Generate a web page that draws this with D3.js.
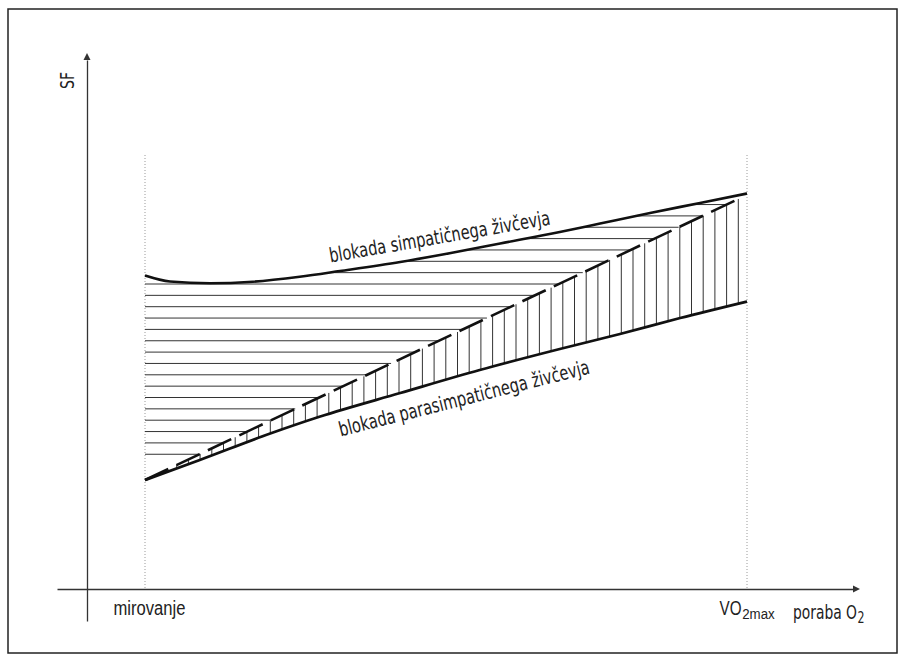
<!DOCTYPE html>
<html><head><meta charset="utf-8">
<script src="https://cdn.jsdelivr.net/npm/d3@7"></script>
<style>
html,body{margin:0;padding:0;background:#fff;}
svg{display:block;font-family:'Liberation Sans Narrow','DejaVu Sans Condensed','Roboto Condensed','Liberation Sans',sans-serif;font-stretch:condensed;}
</style></head><body>
<svg id="chart" width="905" height="662"></svg>
<script>
// ---- data (x: 0 = rest, 100 = VO2max; y: relative heart rate units) ----
const tickValues = [0, 100];
const tickLabels = ["mirovanje", "VO2max"];
const axisTitleX = "poraba O2";
const axisTitleY = "SF";
const curveLabels = ["blokada simpatičnega živčevja", "blokada parasimpatičnega živčevja"];

const sympX = [0, 4.15, 10.8, 17.9, 25.7, 32.4, 42.4, 50.8, 59.0, 68.9, 75.6, 83.9, 92.2, 100];
const sympY = [62.7, 61.5, 61.14, 61.46, 62.46, 63.6, 65.4, 67.2, 69.1, 71.4, 73.1, 75.2, 77.2, 79.1];

const paraX = [0, 9.1, 20.8, 29.1, 42.4, 55.6, 68.9, 78.9, 88.9, 100];
const paraY = [21.8, 25.8, 31.1, 34.5, 39.2, 43.8, 48, 51, 54.2, 57.5];

const normalX = [0, 98.2];
const normalY = [21.8, 77.8];

// ---- layout ----
const svg = d3.select("#chart");
const xs = d3.scaleLinear().domain([0, 100]).range([145, 747]);
const ys = d3.scaleLinear().domain([0, 100]).range([589, 89]);
const ink = "#222";
const FS = 20, FSsub = 15.5;

svg.append("rect").attr("x", 8).attr("y", 9).attr("width", 889).attr("height", 644)
  .attr("fill", "none").attr("stroke", ink).attr("stroke-width", 1.5);

// dotted guide lines
tickValues.forEach(v => {
  svg.append("line").attr("x1", xs(v)).attr("x2", xs(v)).attr("y1", 155).attr("y2", ys(0))
    .attr("stroke", "#9a9a9a").attr("stroke-width", 1).attr("stroke-dasharray", "1,2");
});

// axes
const xAxisScale = d3.scaleLinear().domain([xs.invert(57), xs.invert(853)]).range([57, 853]);
const xAxisG = svg.append("g").attr("transform", `translate(0,${ys(0)})`)
  .call(d3.axisBottom(xAxisScale).tickValues(tickValues).tickSize(0).tickSizeOuter(0).tickPadding(12)
    .tickFormat((d, i) => tickLabels[i]));
xAxisG.select(".domain").attr("stroke", "#333").attr("stroke-width", 1.3);
xAxisG.selectAll("text").attr("font-size", FS).attr("fill", ink).attr("font-family", null);
xAxisG.selectAll(".tick text").each(function(d, i) {
  const t = d3.select(this);
  if (tickLabels[i] === "VO2max") {
    t.text(null).attr("text-anchor", "start");
    t.append("tspan").attr("x", -28).attr("textLength", 22).attr("lengthAdjust", "spacingAndGlyphs").text("VO");
    t.append("tspan").attr("x", -5.3).attr("font-size", FSsub).attr("dy", 4)
      .attr("textLength", 32.5).attr("lengthAdjust", "spacingAndGlyphs").text("2max");
  } else {
    t.attr("dx", 4).attr("textLength", 72).attr("lengthAdjust", "spacingAndGlyphs");
  }
});
svg.append("path").attr("d", "M853,585.5L860,589L853,592.5Z").attr("fill", "#333");

const yAxisScale = d3.scaleLinear().domain([ys.invert(621), ys.invert(60)]).range([621, 60]);
const yAxisG = svg.append("g").attr("transform", "translate(87,0)")
  .call(d3.axisLeft(yAxisScale).tickValues([]).tickSizeOuter(0));
yAxisG.select(".domain").attr("stroke", "#333").attr("stroke-width", 1.3);
svg.append("path").attr("d", "M83.5,60L87,53L90.5,60Z").attr("fill", "#333");

// axis titles
const xt = svg.append("text").attr("y", 618.5).attr("font-size", FS).attr("fill", ink);
xt.append("tspan").attr("x", 793).attr("textLength", 64).attr("lengthAdjust", "spacingAndGlyphs").text("poraba O");
xt.append("tspan").attr("x", 857.5).attr("font-size", FSsub).attr("dy", 4)
  .attr("textLength", 7).attr("lengthAdjust", "spacingAndGlyphs").text("2");
svg.append("text").attr("transform", "translate(74,80.5) rotate(-90)").attr("text-anchor", "middle")
  .attr("font-size", FS).attr("fill", ink).attr("textLength", 17).attr("lengthAdjust", "spacingAndGlyphs")
  .text(axisTitleY);

// curves
const line = d3.line().x(d => xs(d[0])).y(d => ys(d[1])).curve(d3.curveMonotoneX);
const symp = d3.zip(sympX, sympY), para = d3.zip(paraX, paraY), norm = d3.zip(normalX, normalY);

const hatchG = svg.append("g");
const sympPath = svg.append("path").attr("d", line(symp)).attr("fill", "none").attr("stroke", "#111").attr("stroke-width", 2.6);
const paraPath = svg.append("path").attr("d", line(para)).attr("fill", "none").attr("stroke", "#111").attr("stroke-width", 2.8);
svg.append("path").attr("d", d3.line().x(d => xs(d[0])).y(d => ys(d[1]))(norm))
  .attr("fill", "none").attr("stroke", "#111").attr("stroke-width", 2.6).attr("stroke-dasharray", "25.8,9.0");

function sample(node) {
  const L = node.getTotalLength(), out = [];
  for (let i = 0; i <= 600; i++) { const p = node.getPointAtLength(L * i / 600); out.push([p.x, p.y]); }
  return out;
}
const sU = sample(sympPath.node()), sL = sample(paraPath.node());
function yAt(s, x) {
  for (let i = 1; i < s.length; i++) {
    if (s[i][0] >= x) { const a = s[i-1], b = s[i]; const t = (x - a[0]) / ((b[0] - a[0]) || 1); return a[1] + t * (b[1] - a[1]); }
  }
  return s[s.length - 1][1];
}
const nx0 = xs(normalX[0]), ny0 = ys(normalY[0]), nx1 = xs(normalX[1]), ny1 = ys(normalY[1]);
const nSlope = (ny1 - ny0) / (nx1 - nx0);
const normY = x => ny0 + nSlope * (x - nx0);
const normXat = y => nx0 + (y - ny0) / nSlope;

// horizontal hatching (above the dashed line)
const stepY = 11.35, baseY = 284;
for (let k = -7; k <= 15; k++) {
  const y = baseY + stepY * k;
  const xr = normXat(y);
  let xl = xs(0);
  for (let i = sU.length - 1; i >= 0; i--) {
    if (sU[i][0] > xr) continue;
    if (sU[i][1] >= y) { xl = sU[i][0]; break; }
  }
  xl = Math.max(xl, xs(0));
  if (xr - xl > 2) hatchG.append("line").attr("x1", xl).attr("x2", xr).attr("y1", y).attr("y2", y)
    .attr("stroke", "#333").attr("stroke-width", 1);
}
// vertical hatching (below the dashed line)
const stepX = 11.7, startX = 738.3;
for (let j = 0; j < 60; j++) {
  const x = startX - stepX * j;
  if (x <= xs(0)) break;
  const yl = yAt(sL, x), yt = normY(x);
  if (yl - yt > 2) hatchG.append("line").attr("x1", x).attr("x2", x).attr("y1", yl).attr("y2", yt)
    .attr("stroke", "#333").attr("stroke-width", 1);
}

// curve labels
svg.append("text").attr("transform", `translate(${xs(30.8)},${ys(65.3)}) rotate(-9.8)`)
  .attr("font-size", FS).attr("fill", ink).attr("textLength", 224).attr("lengthAdjust", "spacingAndGlyphs")
  .text(curveLabels[0]);
svg.append("text").attr("transform", `translate(${xs(32.5)},${ys(30.5)}) rotate(-14.2)`)
  .attr("font-size", FS).attr("fill", ink).attr("textLength", 258).attr("lengthAdjust", "spacingAndGlyphs")
  .text(curveLabels[1]);
</script>
</body></html>
